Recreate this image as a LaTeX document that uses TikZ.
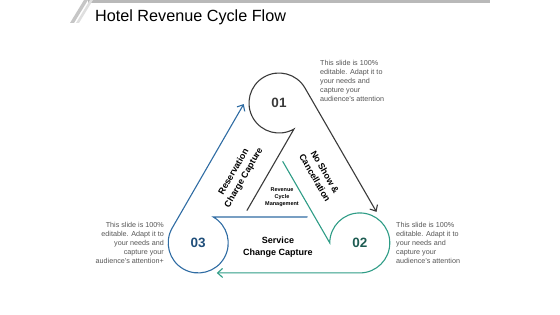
\documentclass[tikz,border=0pt]{standalone}
\usepackage{fontspec}
\setmainfont{Liberation Sans}
\usetikzlibrary{arrows.meta}
\definecolor{cyclegray}{HTML}{3A3A3A}
\definecolor{cycleteal}{HTML}{2E9C86}
\definecolor{cycleblue}{HTML}{2F6CA3}
\definecolor{numteal}{HTML}{1D5C52}
\definecolor{numblue}{HTML}{1F4E7A}
\definecolor{notegray}{HTML}{555555}

\begin{document}
\begin{tikzpicture}[x=1pt, y=1pt, >={Straight Barb[length=5pt, width=9pt]},
    cycleline/.style={line width=1.1pt, line cap=round},
    num/.style={font=\fontsize{13.5}{13.5}\selectfont\bfseries},
    label/.style={font=\fontsize{9}{11.5}\selectfont\bfseries, align=center},
    note/.style={font=\fontsize{7.2}{9}\selectfont, text=notegray, inner sep=0pt}]
    \useasboundingbox (0,0) rectangle (560,315);

    % 1. Thanh tiêu đề
    \fill[gray!55] (88,312) rectangle (490,315);
    \fill[gray!45] (70,292) -- (74,292) -- (88,315) -- (84,315) -- cycle;
    \fill[gray!25] (76,292) -- (79,292) -- (93,315) -- (90,315) -- cycle;
    \node[anchor=base west, inner sep=0pt, font=\fontsize{16.2}{16}\selectfont] (title) at (95,293) {Hotel Revenue Cycle Flow};

    % 2. Tâm các vòng tròn
    \coordinate (G) at (279,118.7);
    \coordinate (C1) at (279,212);
    \coordinate (C2) at (359.8,72);
    \coordinate (C3) at (198.2,72);

    % 3. Ba nhánh của chu trình (xoay quanh G)
    \draw[cycleline, cyclegray, ->] (247,104.6) -- (294,186) arc[start angle=-60, end angle=-330, radius=30] -- ++(-60:143);
    \begin{scope}[rotate around={-120:(279,118.7)}]
        \draw[cycleline, cycleteal, ->] (247,104.6) -- (294,186) arc[start angle=-60, end angle=-330, radius=30] -- ++(-60:143);
    \end{scope}
    \begin{scope}[rotate around={120:(279,118.7)}]
        \draw[cycleline, cycleblue, ->] (247,104.6) -- (294,186) arc[start angle=-60, end angle=-330, radius=30] -- ++(-60:143);
    \end{scope}

    % 4. Số thứ tự
    \node[num, cyclegray] (num1) at (C1) {01};
    \node[num, numteal] (num2) at (C2) {02};
    \node[num, numblue] (num3) at (C3) {03};

    % 5. Nhãn các bước
    \node[label, rotate=60] (resv) at (239,140) {Reservation\\Charge Capture};
    \node[label, rotate=-60] (noshow) at (320,140) {No Show \&\\Cancellation};
    \node[label] (service) at (278,68) {Service\\Change Capture};
    \node[font=\fontsize{5.5}{7}\selectfont\bfseries, align=center] (revcycle) at (282,118) {Revenue\\Cycle\\Management};

    % 6. Ghi chú
    \node[note, anchor=north west, align=left] (note1) at (320,255) {This slide is 100\%\\editable. Adapt it to\\your needs and\\capture your\\audience's attention};
    \node[note, anchor=north west, align=left] (note2) at (396,93) {This slide is 100\%\\editable. Adapt it to\\your needs and\\capture your\\audience's attention};
    \node[note, anchor=north east, align=right] (note3) at (164,93) {This slide is 100\%\\editable. Adapt it to\\your needs and\\capture your\\audience's attention+};
\end{tikzpicture}
\end{document}
